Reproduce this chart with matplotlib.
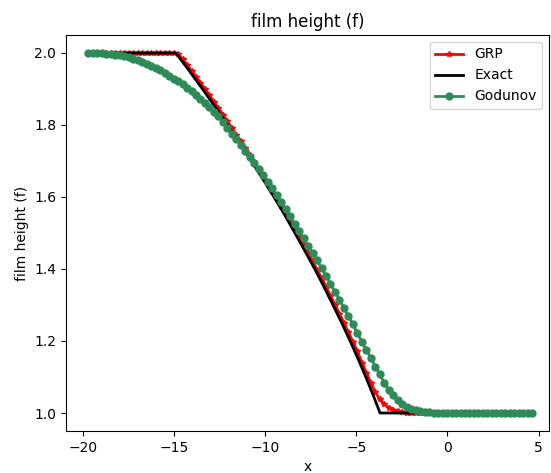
import numpy as np
import matplotlib
matplotlib.use("Agg")
import matplotlib.pyplot as plt

# cell centres of the numerical grid
x = np.linspace(-19.7, 4.65, 100)

grp = [2.0] * 20 + [
    1.997, 1.984, 1.968, 1.951, 1.934, 1.917, 1.900, 1.883, 1.865, 1.847,
    1.829, 1.811, 1.792, 1.773, 1.755, 1.736, 1.717, 1.697, 1.677, 1.657,
    1.637, 1.617, 1.596, 1.576, 1.555, 1.533, 1.512, 1.490, 1.467, 1.445,
    1.422, 1.398, 1.375, 1.351, 1.326, 1.301, 1.276, 1.250, 1.224, 1.198,
    1.171, 1.140, 1.112, 1.084, 1.058, 1.038, 1.024, 1.015, 1.009, 1.005,
    1.003, 1.001,
] + [1.0] * 28

godunov = [
    2.000, 2.000, 1.999, 1.999, 1.998, 1.997, 1.995, 1.994, 1.991, 1.988,
    1.984, 1.980, 1.975, 1.970, 1.964, 1.958, 1.952, 1.945, 1.937, 1.929,
    1.921, 1.913, 1.903, 1.894, 1.884, 1.873, 1.862, 1.850, 1.837, 1.824,
    1.808, 1.792, 1.776, 1.760, 1.744, 1.728, 1.712, 1.695, 1.678, 1.661,
    1.642, 1.624, 1.605, 1.586, 1.566, 1.546, 1.526, 1.506, 1.486, 1.465,
    1.445, 1.424, 1.402, 1.381, 1.359, 1.337, 1.315, 1.292, 1.269, 1.246,
    1.222, 1.198, 1.175, 1.152, 1.129, 1.107, 1.084, 1.063, 1.049, 1.037,
    1.026, 1.018, 1.012, 1.008, 1.005, 1.003, 1.002, 1.001, 1.001,
] + [1.0] * 21

# exact solution (rarefaction), sampled along the curve
x_exact = [-19.7, -14.9, -14.16, -13.44, -12.74, -12.06, -11.40, -10.76,
           -10.13, -9.52, -8.93, -8.37, -7.82, -7.28, -6.77, -6.28, -5.80,
           -5.34, -4.90, -4.48, -4.08, -3.70, 4.65]
f_exact = [2.0, 2.0, 1.95, 1.9, 1.85, 1.8, 1.75, 1.7, 1.65, 1.6, 1.55, 1.5,
           1.45, 1.4, 1.35, 1.3, 1.25, 1.2, 1.15, 1.1, 1.05, 1.0, 1.0]

fig = plt.figure(figsize=(5.51, 4.73), dpi=100)
ax = fig.add_axes([66 / 551, 42 / 473, 483 / 551, 396 / 473])

ax.plot(x, grp, 'r*-', lw=2, ms=4, label='GRP')
ax.plot(x_exact, f_exact, 'k-', lw=2, label='Exact')
ax.plot(x, godunov, 'o-', color='seagreen', lw=2, ms=5, label='Godunov')

ax.set_xlim(-20.93, 5.57)
ax.set_ylim(0.95, 2.05)
ax.set_xlabel('x')
ax.set_ylabel('film height (f)')
ax.set_title('film height (f)')
ax.legend(loc='upper right')

fig.savefig('out.png', dpi=100)
